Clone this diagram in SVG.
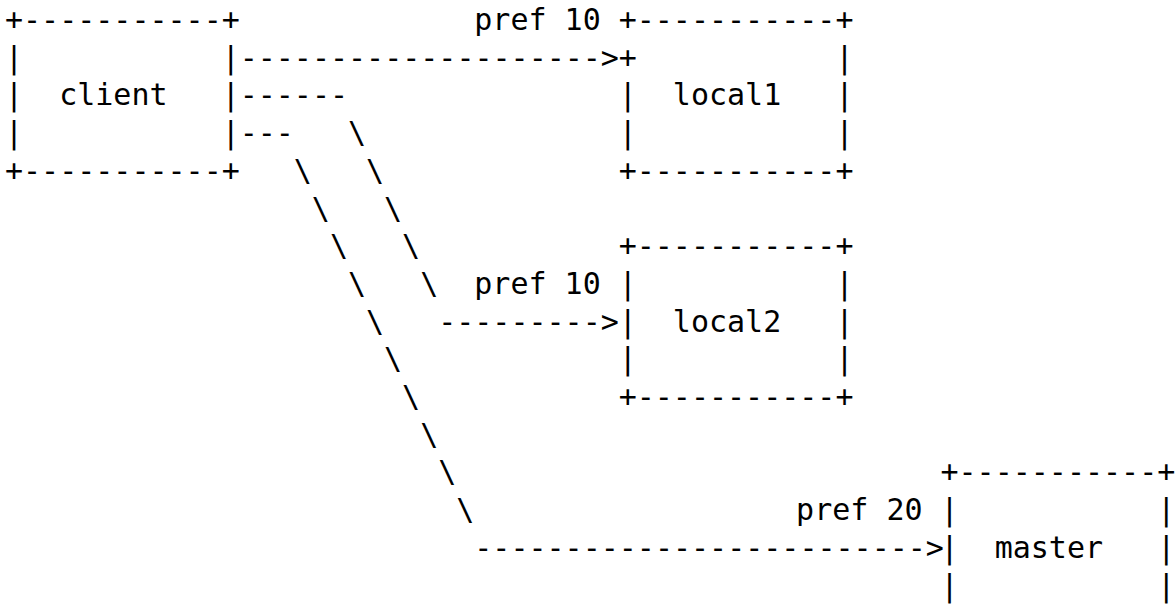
<svg xmlns="http://www.w3.org/2000/svg" width="1176" height="606" viewBox="0 0 1176 606" xml:space="preserve">
<style>
text { font-family: "DejaVu Sans Mono", "Liberation Mono", monospace; font-size: 30px; fill: #000; white-space: pre; }
</style>
<rect x="0" y="0" width="1176" height="606" fill="#fff"/>
<g id="client">
<text x="5" y="30">+-----------+</text>
<text x="5" y="67.7">|           |</text>
<text x="5" y="105.4">|  client   |</text>
<text x="5" y="143.1">|           |</text>
<text x="5" y="180.8">+-----------+</text>
</g>
<g id="local1">
<text x="618.7" y="30">+-----------+</text>
<text x="618.7" y="67.7">+           |</text>
<text x="618.7" y="105.4">|  local1   |</text>
<text x="618.7" y="143.1">|           |</text>
<text x="618.7" y="180.8">+-----------+</text>
</g>
<g id="local2">
<text x="618.7" y="256.2">+-----------+</text>
<text x="618.7" y="293.9">|           |</text>
<text x="618.7" y="331.6">|  local2   |</text>
<text x="618.7" y="369.3">|           |</text>
<text x="618.7" y="407">+-----------+</text>
</g>
<g id="master">
<text x="940.5" y="482.4">+-----------+</text>
<text x="940.5" y="520.1">|           |</text>
<text x="940.5" y="557.8">|  master   |</text>
<text x="940.5" y="595.5">|           |</text>
</g>
<g id="connectors">
<g id="edge-local1">
<text x="474.3" y="30">pref 10</text>
<text x="239.65" y="67.7">--------------------&gt;</text>
</g>
<g id="edge-local2">
<text x="239.65" y="105.4">------</text>
<text x="347.95" y="143.1">\</text>
<text x="366" y="180.8">\</text>
<text x="384.05" y="218.5">\</text>
<text x="402.1" y="256.2">\</text>
<text x="420.15" y="293.9">\</text>
<text x="474.3" y="293.9">pref 10</text>
<text x="438.2" y="331.6">---------&gt;</text>
</g>
<g id="edge-master">
<text x="239.65" y="143.1">---</text>
<text x="293.8" y="180.8">\</text>
<text x="311.85" y="218.5">\</text>
<text x="329.9" y="256.2">\</text>
<text x="347.95" y="293.9">\</text>
<text x="366" y="331.6">\</text>
<text x="384.05" y="369.3">\</text>
<text x="402.1" y="407">\</text>
<text x="420.15" y="444.7">\</text>
<text x="438.2" y="482.4">\</text>
<text x="456.25" y="520.1">\</text>
<text x="796.1" y="520.1">pref 20</text>
<text x="474.3" y="557.8">-------------------------&gt;</text>
</g>
</g>
</svg>
